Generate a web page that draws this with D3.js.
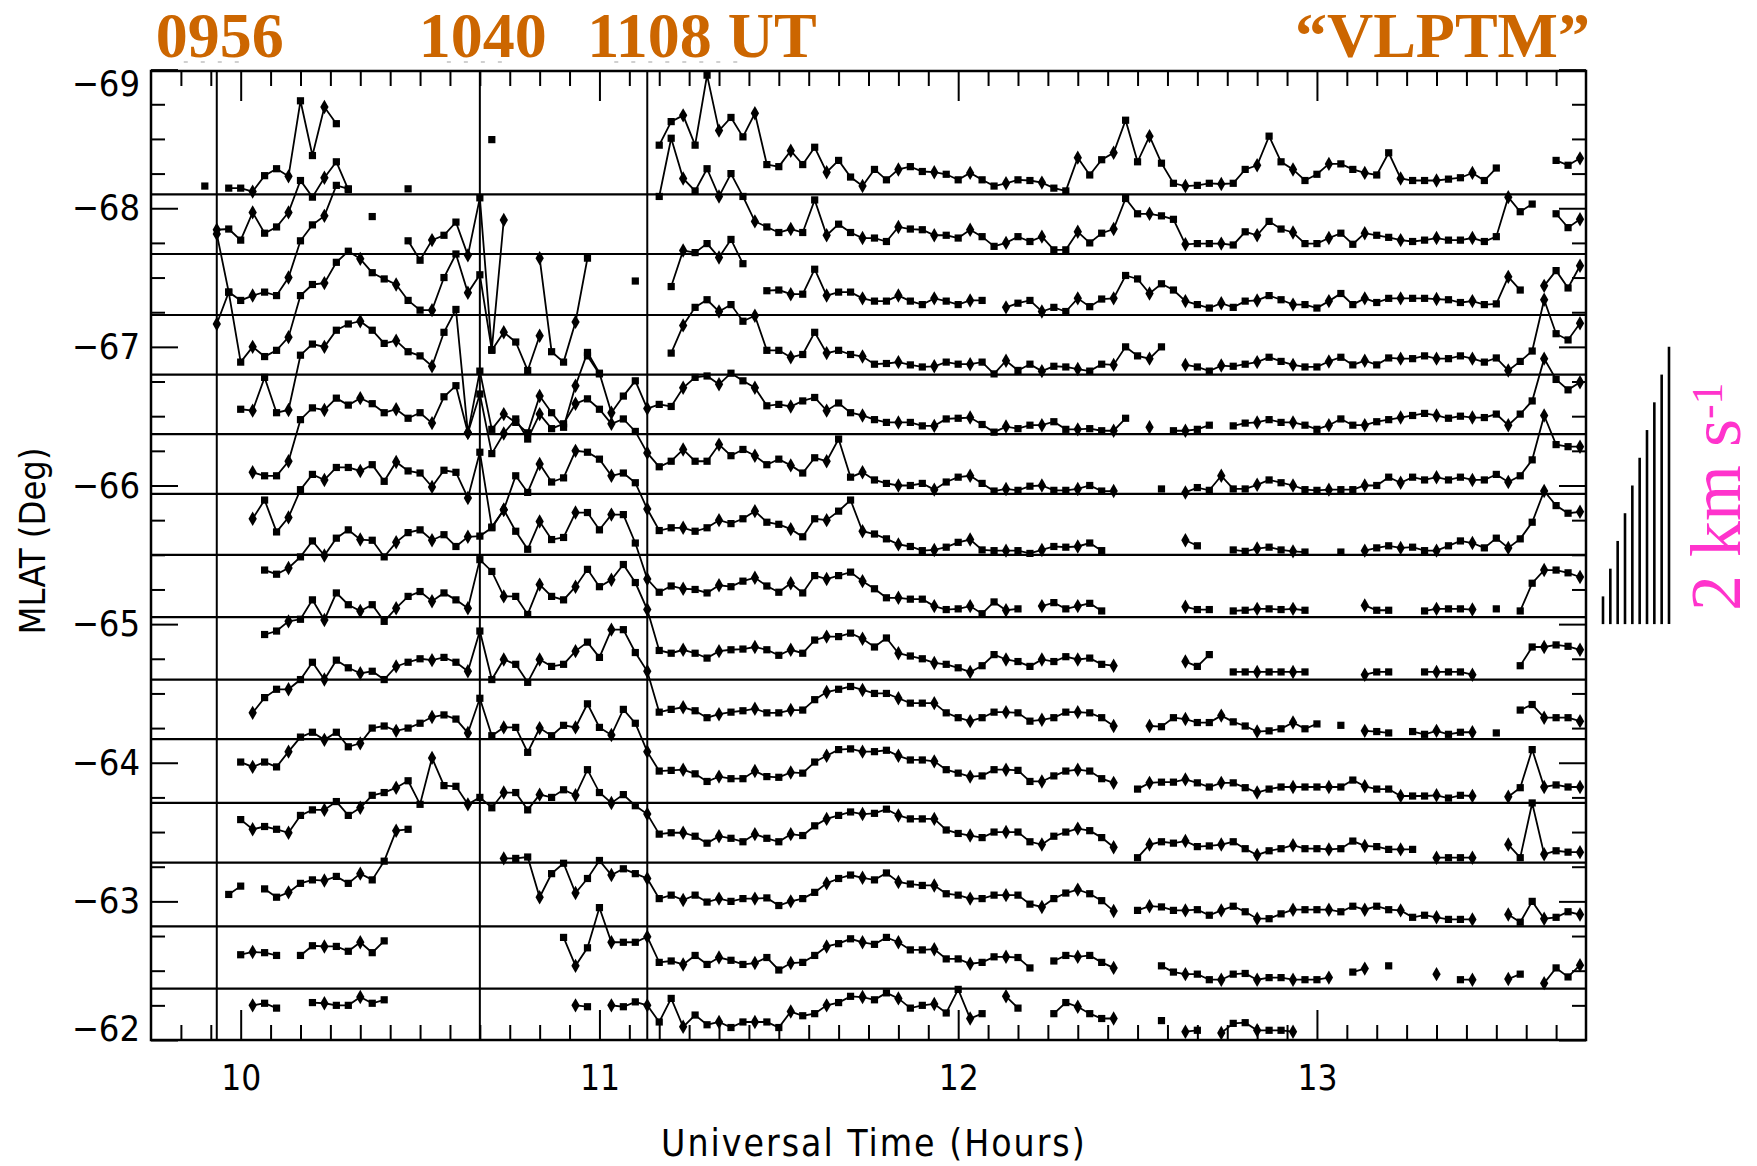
<!DOCTYPE html>
<html>
<head>
<meta charset="utf-8">
<script src="https://d3js.org/d3.v7.min.js"></script>
<style>
body { margin: 0; background: #fff; }
.axisText { font-family: "DejaVu Sans Condensed", "DejaVu Sans", sans-serif; font-stretch: condensed; }
</style>
</head>
<body>
<div id="chart"></div>
<script>
const _ = null;

// radar scans every 2 minutes, first scan 09:54 UT
const scanStartHour = 9.9;
const scanStepMin = 2;

// gate latitudes (MLAT, deg) = zero line of each trace
const gateMlat = [-68.10, -67.67, -67.23, -66.80, -66.37, -65.94, -65.50, -65.05,
                  -64.60, -64.17, -63.71, -63.28, -62.82, -62.37, -62.00];

// line-of-sight velocity (m/s) per gate, one value per scan
const gate1 = [60,_,45,45,20,135,185,130,675,280, 630,510,_,_,_,_,_,_,_,_, _,_,_,_,_,_,_,_,_,_, _,_,_,_,_,_,_,_,355,525,
  570,355,860,460,555,415,585,215,200,315, 215,340,160,245,125,60,180,105,180,200, 165,160,145,105,155,105,60,80,105,100,
  85,45,25,265,140,250,300,535,235,420, 225,80,60,65,80,75,80,180,210,420, 235,180,100,145,220,220,180,155,140,300,
  115,100,100,100,110,120,155,100,190,_, _,_,_,245,210,260];
const gate2 = [_,175,180,100,300,150,195,300,530,410, 550,665,465,_,_,_,_,470,_,_, _,_,_,_,825,_,_,_,_,_, _,_,_,_,_,_,_,_,415,835,
  545,455,615,415,580,415,235,195,155,180, 155,390,135,215,155,115,115,90,195,180, 175,135,135,115,175,125,55,80,125,90,
  125,30,30,160,80,150,180,400,290,290, 275,250,70,75,75,75,65,160,135,235, 180,155,75,75,115,150,70,150,135,120,
  100,90,100,115,100,100,115,90,125,410, 305,360,_,290,190,250];
const gate3 = [_,585,165,105,140,165,140,270,535,650, 715,935,910,_,710,_,_,535,395,540, 575,670,430,845,-250,685,_,_,410,-265,
  -340,-50,410,_,_,_,245,_,_,205, 465,450,515,415,545,370,_,175,180,150, 150,330,140,165,165,120,100,100,140,100,
  75,120,100,75,105,105,_,55,85,105, 25,55,25,120,60,115,120,285,260,155, 225,180,100,75,50,85,55,100,105,140,
  110,75,75,50,100,155,75,120,90,120, 120,120,120,115,110,90,100,75,80,275, 180,_,210,320,195,355];
const gate4 = [_,365,595,90,200,130,175,270,570,650, 660,810,890,835,735,690,650,535,465,465, 700,870,590,720,175,305,235,30,280,_,
  _,_,135,5,_,_,_,_,_,155, 355,485,540,455,505,385,425,175,175,125, 145,305,155,175,145,130,75,80,90,70,
  55,60,90,75,75,90,5,100,30,75, 25,60,55,40,25,75,70,200,135,115, 200,_,70,55,25,65,60,75,90,125,
  95,70,55,55,95,125,70,100,70,120, 115,115,135,115,115,135,115,90,120,30, 95,170,540,295,250,370];
const gate5 = [_,_,_,180,170,410,155,175,570,650, 630,750,795,815,750,655,675,595,565,490, 735,900,10,455,35,145,85,10,275,155,
  50,350,590,440,155,275,385,185,215,200, 335,410,420,360,440,385,335,205,215,200, 240,265,170,225,155,135,105,85,85,85,
  60,60,110,115,120,70,15,55,40,65, 65,90,35,35,40,25,25,115,_,50, _,25,25,35,65,_,60,80,85,105,
  85,85,65,35,65,110,65,65,90,105, 120,135,150,135,115,130,120,120,145,65, 145,240,545,395,320,375];
const gate6 = [_,_,_,_,155,130,130,235,535,620, 605,690,640,690,650,585,610,545,585,510, 700,780,440,720,290,435,540,395,575,470,
  505,650,685,610,505,540,450,295,195,235, 320,235,235,355,275,320,275,210,250,205, 150,260,235,395,120,155,100,75,60,60,
  75,30,85,120,130,75,20,35,25,55, 60,25,25,35,60,20,20,_,_,_, 35,_,10,45,25,130,35,35,65,100,
  80,60,30,25,30,30,30,60,60,120, 80,120,100,120,100,120,100,100,140,85, 130,245,565,355,340,340];
const gate7 = [_,_,_,_,260,395,165,270,470,580, 540,630,630,605,650,530,670,605,590,490, 610,595,410,740,200,325,570,450,655,525,
  555,750,740,690,570,590,520,330,175,195, 195,170,195,250,225,260,315,235,220,185, 130,260,250,315,395,170,150,115,75,60,
  30,35,55,90,110,35,30,30,30,10, 35,60,55,60,85,30,_,_,_,_, _,_,105,65,_,_,35,25,45,55,
  35,25,20,_,_,20,_,30,50,65, 50,55,30,30,65,100,85,50,120,50, 115,235,460,355,300,310];
const gate8 = [_,_,_,_,_,340,310,355,435,550, 445,570,630,560,555,435,540,610,630,555, 595,510,580,585,645,775,620,490,690,560,
  575,755,755,630,740,740,535,275,180,225, 205,200,175,230,220,260,285,225,180,245, 175,300,275,300,325,260,205,140,140,130,
  130,80,55,60,80,25,110,50,60,_, 80,105,60,80,100,45,_,_,_,_, _,_,75,55,55,_,45,50,60,60,
  55,60,50,_,_,_,_,85,50,50, _,_,45,60,60,60,55,_,60,_, 45,245,340,340,320,290];
const gate9 = [_,_,_,_,_,325,350,420,435,575, 430,625,540,495,540,420,515,600,635,565, 625,575,515,865,780,600,600,470,685,600,
  575,670,795,670,720,830,700,505,210,190, 215,190,155,205,215,220,235,215,175,215, 190,285,310,310,335,295,235,300,190,170,
  150,120,110,85,55,100,180,145,130,95, 145,130,165,145,155,110,100,_,_,_, _,_,130,95,180,_,55,55,55,55,
  55,55,55,_,_,_,_,35,55,55, _,_,55,55,55,55,35,_,_,_, 100,235,235,250,240,215];
const gate10 = [_,_,_,_,190,300,360,360,430,555, 430,570,515,475,490,430,525,555,580,570, 590,555,490,780,430,575,540,410,575,525,
  540,635,700,590,790,790,625,490,195,215, 230,205,155,180,195,205,220,190,190,210, 210,285,340,360,380,355,330,330,295,260,
  260,260,190,155,130,155,195,195,190,130, 140,155,195,195,190,155,95,_,_,95, 90,155,145,120,120,170,125,95,55,60,
  75,120,75,110,_,100,_,60,55,45, _,55,35,60,35,50,50,_,45,_, 210,250,155,155,155,130];
const gate11 = [_,_,_,295,260,295,260,370,475,510, 455,510,405,430,540,555,520,540,575,620, 635,605,505,755,485,545,545,365,540,485,
  560,545,715,545,490,675,575,370,230,235, 240,210,155,190,175,175,230,190,185,220, 215,295,340,385,390,370,370,380,340,310,
  310,300,240,215,190,195,240,240,235,155, 155,195,230,240,230,175,145,_,100,145, 150,150,170,145,115,145,145,110,75,100,
  115,115,115,115,115,115,165,120,100,100, 50,50,50,55,35,55,50,_,_,45, 110,385,115,130,115,115];
const gate12 = [_,_,_,310,240,260,240,215,340,380, 380,440,340,395,485,505,540,590,420,755, 555,550,420,470,395,505,505,380,490,470,
  525,485,670,505,430,490,410,350,205,215, 215,190,140,190,175,150,205,175,150,205, 195,265,315,340,365,350,355,385,340,315,
  315,315,235,210,195,180,220,220,220,150, 130,190,220,245,230,180,110,_,35,130, 150,140,155,115,120,130,150,100,55,85,
  100,125,100,100,95,100,155,120,115,95, 95,95,_,35,35,35,35,_,_,130, 35,430,60,85,75,75];
const gate13 = [_,_,230,290,_,270,210,245,310,335, 330,360,310,380,335,470,690,700,_,_, _,_,_,_,_,490,490,500,210,380,
  455,240,345,475,370,415,380,345,200,225, 190,225,175,200,180,200,200,205,150,180, 200,245,310,345,370,350,335,385,320,305,
  295,295,235,225,200,200,225,225,225,160, 140,200,240,265,235,185,110,_,115,145, 140,115,115,120,80,115,145,105,55,55,
  90,120,120,120,120,105,145,120,145,120, 115,65,80,65,50,50,50,_,_,85, 30,180,55,65,105,85];
const gate14 = [_,_,_,245,265,260,240,_,240,310, 305,305,270,335,260,345,_,_,_,_, _,_,_,_,_,_,_,_,_,_,
  370,165,295,585,335,335,335,375,190,200, 175,240,175,225,205,175,185,225,135,185, 190,240,305,325,360,335,320,370,335,280,
  280,285,215,215,180,190,230,230,225,150, _,200,240,230,240,190,150,_,_,_, 165,120,105,105,65,65,105,110,65,80,
  80,65,65,65,80,_,120,145,_,165, _,_,_,105,_,65,65,_,_,70, 105,_,40,150,85,170];
const gate15 = [_,_,_,_,250,265,230,_,_,270, 265,250,250,310,265,290,_,_,_,_, _,_,_,_,_,_,_,_,_,_,
  _,250,240,_,250,240,275,250,130,300, 95,180,110,130,90,130,130,130,90,205, 175,190,250,270,315,310,290,340,300,230,
  250,260,195,365,155,190,_,315,230,_, _,190,270,240,190,155,155,_,_,_, 140,_,60,70,_,50,120,125,70,70,
  70,60,_,_,_,_,_,_,_,_, _,_,_,_,_,_,_,_,_,_, _,_,_,_,_,_];

const velocities = [gate1, gate2, gate3, gate4, gate5, gate6, gate7, gate8,
                    gate9, gate10, gate11, gate12, gate13, gate14, gate15];

// marked times (UT hours) and their labels
const eventTimes = [9 + 56 / 60, 10 + 40 / 60, 11 + 8 / 60];
const eventLabels = ["0956", "1040", "1108 UT"];
const modeLabel = "\u201CVLPTM\u201D";

// velocity scale bars (m/s)
const scaleBarValues = [200, 400, 600, 800, 1000, 1200, 1400, 1600, 1800, 2000];
const scaleBarBase = -65.0;

const yTickValues = [-69, -68, -67, -66, -65, -64, -63, -62];
const xTickValues = [10, 11, 12, 13];

function makeChart() {
  var svgWidth = 1757;
  var svgHeight = 1166;
  var margin = { top: 71, right: 171, bottom: 126, left: 151 };
  var width = svgWidth - margin.left - margin.right;
  var height = svgHeight - margin.top - margin.bottom;

  var svg = d3.select("#chart").append("svg")
    .attr("width", svgWidth)
    .attr("height", svgHeight);
  svg.append("rect").attr("width", svgWidth).attr("height", svgHeight).attr("fill", "#fff");

  var chartGroup = svg.append("g")
    .attr("transform", `translate(${margin.left}, ${margin.top})`);

  var xScale = d3.scaleLinear().domain([9.75, 13.75]).range([0, width]);
  var yScale = d3.scaleLinear().domain([-62, -68.99]).range([height, 0]);
  // 1 km/s drawn as tall as 1 degree of MLAT
  var vScale = d3.scaleLinear().domain([0, 1000]).range([0, yScale(-63) - yScale(-62)]);

  // gate zero lines
  chartGroup.selectAll(".gateLine")
    .data(gateMlat)
    .enter()
    .append("line")
    .attr("x1", 0).attr("x2", width)
    .attr("y1", d => yScale(d)).attr("y2", d => yScale(d))
    .attr("stroke", "#000").attr("stroke-width", 2.2);

  // event lines
  chartGroup.selectAll(".eventLine")
    .data(eventTimes)
    .enter()
    .append("line")
    .attr("x1", d => xScale(d)).attr("x2", d => xScale(d))
    .attr("y1", 0).attr("y2", height)
    .attr("stroke", "#000").attr("stroke-width", 2);

  // traces
  var traces = velocities.map((vals, g) => vals.map((v, k) => ({
    t: scanStartHour + k * scanStepMin / 60, v: v, gate: gateMlat[g], k: k
  })));

  var line = d3.line()
    .defined(d => d.v !== null)
    .x(d => xScale(d.t))
    .y(d => yScale(d.gate) + vScale(d.v));

  var traceGroup = chartGroup.append("g");
  traceGroup.selectAll("path")
    .data(traces)
    .enter()
    .append("path")
    .attr("d", line)
    .attr("fill", "none")
    .attr("stroke", "#000")
    .attr("stroke-width", 1.8);

  var pts = traces.flat().filter(d => d.v !== null);
  var sq = d3.symbol().type(d3.symbolSquare).size(52);
  var di = d3.symbol().type(d3.symbolDiamond).size(60);
  traceGroup.selectAll(".pt")
    .data(pts)
    .enter()
    .append("path")
    .attr("transform", d => `translate(${xScale(d.t)}, ${yScale(d.gate) + vScale(d.v)})`)
    .attr("d", d => (d.k % 3 === 1 ? di() : sq()))
    .attr("fill", "#000");

  // axes (ticks point inward)
  function styleAxis(g) {
    g.select(".domain").remove();
    g.selectAll(".tick line").attr("stroke", "#000").attr("stroke-width", 2);
  }
  var minorY = d3.range(-68.75, -62, 0.25).filter(v => Math.abs(v - Math.round(v)) > 0.01);
  var minorX = d3.range(9.75 + 1 / 12, 13.75, 1 / 12).filter(v => Math.abs(v - Math.round(v)) > 0.01);

  var leftAxis = chartGroup.append("g")
    .call(d3.axisLeft(yScale).tickValues(yTickValues).tickSize(-27).tickPadding(11).tickFormat(d3.format("d")))
    .call(styleAxis);
  leftAxis.selectAll("text")
    .attr("class", "axisText")
    .attr("font-size", 36)
    .attr("fill", "#000")
    .attr("y", d => (d === -69 ? 14 : d === -62 ? -11 : 0));
  chartGroup.append("g")
    .call(d3.axisLeft(yScale).tickValues(minorY).tickSize(-14).tickFormat(""))
    .call(styleAxis);
  chartGroup.append("g")
    .attr("transform", `translate(${width}, 0)`)
    .call(d3.axisRight(yScale).tickValues(yTickValues).tickSize(-27).tickFormat(""))
    .call(styleAxis);
  chartGroup.append("g")
    .attr("transform", `translate(${width}, 0)`)
    .call(d3.axisRight(yScale).tickValues(minorY).tickSize(-14).tickFormat(""))
    .call(styleAxis);

  chartGroup.append("g")
    .call(d3.axisTop(xScale).tickValues(xTickValues).tickSize(-30).tickFormat(""))
    .call(styleAxis);
  chartGroup.append("g")
    .call(d3.axisTop(xScale).tickValues(minorX).tickSize(-15).tickFormat(""))
    .call(styleAxis);
  var bottomAxis = chartGroup.append("g")
    .attr("transform", `translate(0, ${height})`)
    .call(d3.axisBottom(xScale).tickValues(xTickValues).tickSize(-30).tickPadding(25).tickFormat(d3.format("d")))
    .call(styleAxis);
  bottomAxis.selectAll("text").attr("class", "axisText").attr("font-size", 35).attr("fill", "#000");
  chartGroup.append("g")
    .attr("transform", `translate(0, ${height})`)
    .call(d3.axisBottom(xScale).tickValues(minorX).tickSize(-15).tickFormat(""))
    .call(styleAxis);

  // frame
  chartGroup.append("rect")
    .attr("width", width).attr("height", height)
    .attr("fill", "none").attr("stroke", "#000").attr("stroke-width", 2.5);

  // axis titles
  chartGroup.append("text")
    .attr("class", "axisText")
    .attr("x", xScale(11.765)).attr("y", height + 116)
    .attr("text-anchor", "middle")
    .attr("font-size", 37)
    .attr("letter-spacing", 2)
    .text("Universal Time (Hours)");
  chartGroup.append("text")
    .attr("class", "axisText")
    .attr("transform", `translate(${-106}, ${yScale(-65.6)}) rotate(-90)`)
    .attr("text-anchor", "middle")
    .attr("font-size", 36)
    .text("MLAT (Deg)");

  // event labels, with the faint scan marks under the first three
  var orange = "#cc6600";
  eventLabels.forEach(function (lab, i) {
    var isLast = i === eventLabels.length - 1;
    var x0 = xScale(eventTimes[i]);
    chartGroup.append("text")
      .attr("x", isLast ? x0 - 60 : x0 + 3)
      .attr("y", -14)
      .attr("text-anchor", isLast ? "start" : "middle")
      .attr("font-family", "'Liberation Serif', 'Times New Roman', serif")
      .attr("font-weight", "bold")
      .attr("font-size", 64)
      .attr("fill", orange)
      .text(lab);
    chartGroup.append("line")
      .attr("x1", x0 - 33).attr("x2", isLast ? x0 + 102 : x0 + 33)
      .attr("y1", -9).attr("y2", -9)
      .attr("stroke", "#999").attr("stroke-width", 1.5)
      .attr("stroke-dasharray", "4 13")
      .attr("opacity", 0.6);
  });
  chartGroup.append("text")
    .attr("x", width + 4).attr("y", -14)
    .attr("text-anchor", "end")
    .attr("font-family", "'Liberation Serif', 'Times New Roman', serif")
    .attr("font-weight", "bold")
    .attr("font-size", 64)
    .attr("fill", orange)
    .text(modeLabel);

  // velocity scale bars
  var barX = d3.scaleLinear().domain([0, scaleBarValues.length - 1]).range([width + 17, width + 83]);
  chartGroup.selectAll(".scaleBar")
    .data(scaleBarValues)
    .enter()
    .append("line")
    .attr("x1", (d, i) => barX(i)).attr("x2", (d, i) => barX(i))
    .attr("y1", yScale(scaleBarBase))
    .attr("y2", d => yScale(scaleBarBase) + vScale(d))
    .attr("stroke", "#000").attr("stroke-width", 2.6);

  var pink = "#ff33cc";
  var unitText = chartGroup.append("text")
    .attr("transform", `translate(${width + 154}, ${yScale(scaleBarBase) - 13}) rotate(-90)`)
    .attr("font-family", "'Liberation Serif', 'Times New Roman', serif")
    .attr("font-size", 72)
    .attr("fill", pink);
  unitText.append("tspan").text("2 km s");
  unitText.append("tspan").attr("dy", "-0.42em").attr("font-size", 44).text("-1");
}

makeChart();
</script>
</body>
</html>
